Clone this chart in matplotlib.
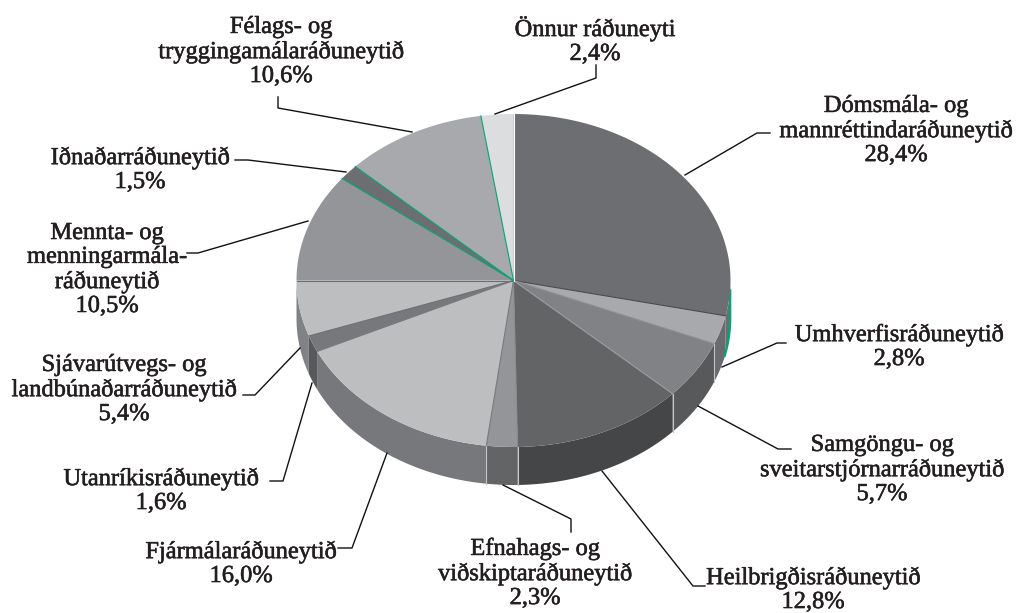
import matplotlib
matplotlib.use("Agg")
import matplotlib.pyplot as plt
import matplotlib.patheffects as pe
import numpy as np

names = ["Dómsmála- og\nmannréttindaráðuneytið", "Umhverfisráðuneytið",
         "Samgöngu- og\nsveitarstjórnarráðuneytið", "Heilbrigðisráðuneytið",
         "Efnahags- og\nviðskiptaráðuneytið", "Fjármálaráðuneytið",
         "Utanríkisráðuneytið", "Sjávarútvegs- og\nlandbúnaðarráðuneytið",
         "Mennta- og\nmenningarmála-\nráðuneytið", "Iðnaðarráðuneytið",
         "Félags- og\ntryggingamálaráðuneytið", "Önnur ráðuneyti"]
shares = [28.4, 2.8, 5.7, 12.8, 2.3, 16.0, 1.6, 5.4, 10.5, 1.5, 10.6, 2.4]

top_colors = ["#6d6e71", "#a7a9ac", "#808285", "#636466", "#939598", "#bcbec0",
              "#77787b", "#bcbec0", "#939598", "#6d6e71", "#a7a9ac", "#dcddde"]
side_colors = ["#6d6e71", "#6a6b6e", "#58595b", "#454648", "#636466", "#77787b",
               "#58595b", "#808285", "#939598", "#6d6e71", "#a7a9ac", "#dcddde"]
edge_colors = ["#48494b", "#8d8f92", "#9a9c9f", "#8a8b8e", "#77787b", "#77787b",
               "#6d6e71", "#6d6e71", "#00a573", "#00a573", "#00a573", "#ffffff"]

# label centre in pixels, then leader line
label_pos = [(896, 131), (899, 347), (882, 470), (813, 590), (535, 574), (241, 564),
             (161, 491), (124, 390), (107, 270), (140, 170), (281, 52), (595, 41)]
leaders = [[(685, 175), (757, 133), (770, 133)],
           [(722, 367), (777, 343), (786, 343)],
           [(698, 406), (778, 449), (791, 449)],
           [(602, 471), (693, 586), (705, 586)],
           [(503, 485), (571, 519), (571, 532)],
           [(387, 453), (352, 548), (338, 548)],
           [(312, 383), (283, 481), (270, 481)],
           [(300, 348), (255, 395), (243, 395)],
           [(308, 221), (198, 253), (187, 253)],
           [(346, 172), (248, 160), (235, 160)],
           [(412, 132), (278, 108), (278, 97)],
           [(495, 114), (596, 78), (596, 65)]]

cx, cy, rx, ry, depth = 513.5, 280.5, 217, 166.5, 38


def rim(a):
    # angle in degrees clockwise from the top
    a = np.radians(a)
    return cx + rx * np.sin(a), cy - ry * np.cos(a)


fig = plt.figure(figsize=(10.16, 6.13), dpi=100)
ax = fig.add_axes([0, 0, 1, 1])
ax.set_xlim(0, 1016)
ax.set_ylim(613, 0)
ax.axis("off")

ends = np.cumsum(shares) / sum(shares) * 360
starts = np.r_[0, ends[:-1]]

# sides, only the front half shows
for a0, a1, col in zip(starts, ends, side_colors):
    lo, hi = max(a0, 90), min(a1, 270)
    if lo >= hi:
        continue
    t = np.linspace(lo, hi, 80)
    x, y = rim(t)
    ax.fill(np.r_[x, x[::-1]], np.r_[y, y[::-1] + depth], color=col, lw=0, zorder=1)

# green sliver on the right of the side
t = np.linspace(90, 103, 30)
x, y = rim(t)
ax.plot(np.r_[x[0], x] - 0.3, np.r_[cy + 10, y + depth], color="#00a573", lw=1.6, zorder=2)

# light lines between the side faces
for a in ends[1:5]:
    x, y = rim(a)
    ax.plot([x, x], [y, y + depth], color="#c4c5c7", lw=0.8, zorder=2)

# top faces
for a0, a1, col in zip(starts, ends, top_colors):
    t = np.linspace(a0, a1, 120)
    x, y = rim(t)
    ax.fill(np.r_[cx, x], np.r_[cy, y], color=col, lw=0, zorder=3)

# radial edges
for a, col in zip(ends, edge_colors):
    x, y = rim(a)
    ax.plot([cx, x], [cy, y], color=col, lw=0.8, zorder=4)

for pts in leaders:
    ax.plot([p[0] for p in pts], [p[1] for p in pts], color="#111111", lw=1.0, zorder=5)

for name, share, (px, py) in zip(names, shares, label_pos):
    txt = name + "\n" + f"{share:.1f}%".replace(".", ",")
    ax.text(px, py, txt, ha="center", va="center", family="Liberation Serif",
            fontsize=17.6, linespacing=1.18, color="#231f20", zorder=6,
            path_effects=[pe.withStroke(linewidth=0.4, foreground="#231f20")])

fig.savefig("out.png", dpi=100)
